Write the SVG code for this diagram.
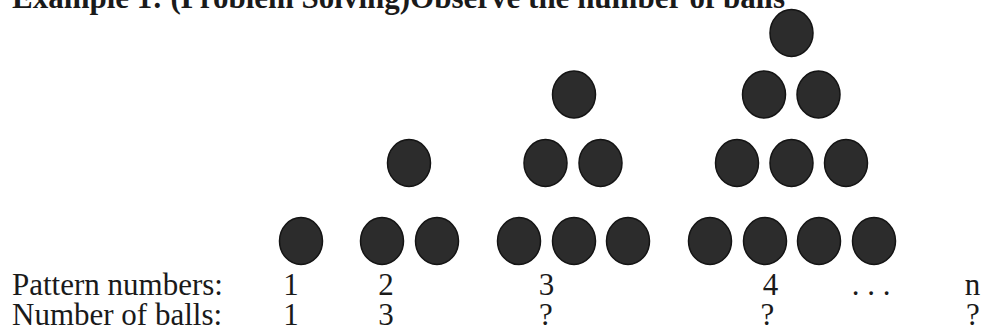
<svg xmlns="http://www.w3.org/2000/svg" width="981" height="334" viewBox="0 0 981 334">
<style>
.ball{fill:#2c2c2c;stroke:#141414;stroke-width:1.5}
.t{font-family:"Liberation Serif","Times New Roman",serif;font-size:31px;fill:#1a1a1a}
.h{font-family:"Liberation Serif","Times New Roman",serif;font-size:31px;font-weight:bold;fill:#1a1a1a}
.c{text-anchor:middle}
</style>
<rect width="981" height="334" fill="#ffffff"/>
<text class="h" x="12" y="7.5">Example 1: (Problem Solving)Observe the number of balls</text>
<g id="pattern1">
<ellipse class="ball" cx="301" cy="241" rx="21.5" ry="23.5"/>
</g>
<g id="pattern2">
<ellipse class="ball" cx="409" cy="163" rx="21.5" ry="23.5"/>
<ellipse class="ball" cx="382" cy="241" rx="21.5" ry="23.5"/>
<ellipse class="ball" cx="437" cy="241" rx="21.5" ry="23.5"/>
</g>
<g id="pattern3">
<ellipse class="ball" cx="574" cy="94.5" rx="21.5" ry="23.5"/>
<ellipse class="ball" cx="545.5" cy="163" rx="21.5" ry="23.5"/>
<ellipse class="ball" cx="600.5" cy="163" rx="21.5" ry="23.5"/>
<ellipse class="ball" cx="519" cy="241" rx="21.5" ry="23.5"/>
<ellipse class="ball" cx="574" cy="241" rx="21.5" ry="23.5"/>
<ellipse class="ball" cx="628" cy="241" rx="21.5" ry="23.5"/>
</g>
<g id="pattern4">
<ellipse class="ball" cx="791.5" cy="33" rx="21.5" ry="23.5"/>
<ellipse class="ball" cx="764" cy="94.5" rx="21.5" ry="23.5"/>
<ellipse class="ball" cx="818.5" cy="94.5" rx="21.5" ry="23.5"/>
<ellipse class="ball" cx="737" cy="163" rx="21.5" ry="23.5"/>
<ellipse class="ball" cx="791.5" cy="163" rx="21.5" ry="23.5"/>
<ellipse class="ball" cx="846" cy="163" rx="21.5" ry="23.5"/>
<ellipse class="ball" cx="710" cy="241" rx="21.5" ry="23.5"/>
<ellipse class="ball" cx="765" cy="241" rx="21.5" ry="23.5"/>
<ellipse class="ball" cx="819" cy="241" rx="21.5" ry="23.5"/>
<ellipse class="ball" cx="874" cy="241" rx="21.5" ry="23.5"/>
</g>
<g id="table">
<text class="t" x="12" y="295">Pattern numbers:</text>
<text class="t" x="12" y="325">Number of balls:</text>
<text class="t c" x="291" y="295">1</text>
<text class="t c" x="386" y="295">2</text>
<text class="t c" x="546.5" y="295">3</text>
<text class="t c" x="770.5" y="295">4</text>
<text class="t c" x="871" y="295">. . .</text>
<text class="t c" x="972.5" y="295">n</text>
<text class="t c" x="291" y="325">1</text>
<text class="t c" x="386" y="325">3</text>
<text class="t c" x="546" y="325">?</text>
<text class="t c" x="767.5" y="325">?</text>
<text class="t c" x="973" y="325">?</text>
</g>
</svg>
